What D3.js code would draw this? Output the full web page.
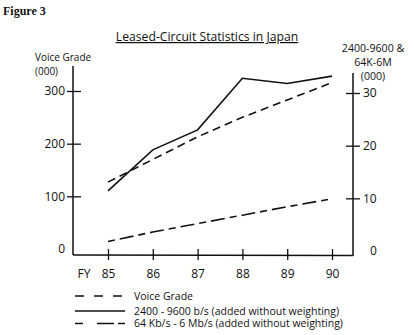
<!DOCTYPE html>
<html>
<head>
<meta charset="utf-8">
<script src="https://cdn.jsdelivr.net/npm/d3@7"></script>
<style>
  body { margin: 0; background: #fff; }
  svg { display: block; }
  text { font-family: "Open Sans", "Liberation Sans", sans-serif; fill: #111; }
</style>
</head>
<body>
<svg id="chart" width="414" height="335"></svg>
<script>
// fiscal years and the three leased-circuit series
const years = [85, 86, 87, 88, 89, 90]
const voiceGrade = [127, 170, 213, 250, 283, 316]      // left axis, thousands
const lowSpeed = [11.4, 19.2, 23.0, 32.8, 31.8, 33.2]   // 2400-9600 b/s, right axis
const highSpeed = [1.8, 3.6, 5.2, 6.8, 8.4, 9.9]        // 64 Kb/s - 6 Mb/s, right axis
const leftTicks = [0, 100, 200, 300]
const rightTicks = [0, 10, 20, 30]
const legendNames = [
    "Voice Grade",
    "2400 - 9600 b/s (added without weighting)",
    "64 Kb/s - 6 Mb/s (added without weighting)"
]

const svg = d3.select("#chart")
svg.append("rect").attr("width", 414).attr("height", 335).attr("fill", "#fff")

const x = d3.scaleLinear().domain([85, 90]).range([108, 332])
const yL = d3.scaleLinear().domain([0, 300]).range([249, 91])
const yR = d3.scaleLinear().domain([0, 30]).range([251, 93])

const ink = "#111"

// heading text
svg.append("text")
    .attr("x", 3).attr("y", 15)
    .style("font-family", "'Liberation Serif', serif")
    .style("font-weight", "bold")
    .style("font-size", "12px")
    .text("Figure 3")

svg.append("text")
    .attr("x", 207).attr("y", 41)
    .attr("text-anchor", "middle")
    .style("font-size", "12.2px")
    .style("text-decoration", "underline")
    .text("Leased-Circuit Statistics in Japan")

// axis captions
svg.append("text").attr("x", 35).attr("y", 61).style("font-size", "10px").text("Voice Grade")
svg.append("text").attr("x", 35).attr("y", 75).style("font-size", "10px").text("(000)")
const rightCap = ["2400-9600 &", "64K-6M", "(000)"]
rightCap.forEach((t, i) => {
    svg.append("text")
        .attr("x", 373).attr("y", 52 + i * 14)
        .attr("text-anchor", "middle")
        .style("font-size", "10.6px")
        .text(t)
})

// frame lines
svg.append("line").attr("x1", 73).attr("x2", 73).attr("y1", 66).attr("y2", 255)
    .attr("stroke", ink).attr("stroke-width", 1.5)
svg.append("line").attr("x1", 353).attr("x2", 353).attr("y1", 73).attr("y2", 256)
    .attr("stroke", ink).attr("stroke-width", 1.5)
svg.append("line").attr("x1", 73).attr("x2", 353).attr("y1", 255).attr("y2", 255.5)
    .attr("stroke", ink).attr("stroke-width", 1.5)

// left axis
const gL = svg.append("g")
    .attr("transform", "translate(73,0)")
    .call(d3.axisLeft(yL).tickValues(leftTicks).tickSize(6).tickPadding(2))
gL.select(".domain").remove()
gL.selectAll(".tick line").attr("x1", 8).attr("stroke", ink).attr("stroke-width", 1.3)
    .filter(d => d === 0).remove()
gL.selectAll(".tick text").style("font-size", "12px").style("font-family", "'Open Sans', sans-serif")
    .attr("fill", ink)

// right axis
const gR = svg.append("g")
    .attr("transform", "translate(353,0)")
    .call(d3.axisRight(yR).tickValues(rightTicks).tickSize(7).tickPadding(3))
gR.select(".domain").remove()
gR.selectAll(".tick line").attr("x1", -7).attr("stroke", ink).attr("stroke-width", 1.3)
    .filter(d => d === 0).remove()
gR.selectAll(".tick text").style("font-size", "12px").style("font-family", "'Open Sans', sans-serif")
    .attr("fill", ink)
gR.selectAll(".tick text").filter(d => d === 0).attr("x", 17)

// bottom axis
const gX = svg.append("g")
    .attr("transform", "translate(0,255)")
    .call(d3.axisBottom(x).tickValues(years).tickFormat(d3.format("d")).tickSize(5).tickPadding(9))
gX.select(".domain").remove()
gX.selectAll(".tick line").attr("y1", -6).attr("stroke", ink).attr("stroke-width", 1.3)
gX.selectAll(".tick text").style("font-size", "12px").style("font-family", "'Open Sans', sans-serif")
    .attr("fill", ink)
svg.append("text").attr("x", 84).attr("y", 278).attr("text-anchor", "middle")
    .style("font-size", "12px").text("FY")

// series lines
const lineL = d3.line().x((d, i) => x(years[i])).y(d => yL(d))
const lineR = d3.line().x((d, i) => x(years[i])).y(d => yR(d))

const series = [
    { name: legendNames[0], values: voiceGrade, line: lineL, dash: "8,5", key: "9,10" },
    { name: legendNames[1], values: lowSpeed, line: lineR, dash: null, key: null },
    { name: legendNames[2], values: highSpeed, line: lineR, dash: "7,5,14,5", key: "8,14,17,4" }
]

series.forEach(s => {
    svg.append("path")
        .datum(s.values)
        .attr("d", s.line)
        .attr("fill", "none")
        .attr("stroke", ink)
        .attr("stroke-width", 1.6)
        .attr("stroke-dasharray", s.dash)
})

// legend
const legend = svg.append("g")
series.forEach((s, i) => {
    const ly = [296, 311, 323.5][i]
    legend.append("line")
        .attr("x1", 75).attr("x2", 125).attr("y1", ly).attr("y2", ly)
        .attr("stroke", ink).attr("stroke-width", 1.6)
        .attr("stroke-dasharray", s.key)
    legend.append("text")
        .attr("x", 134).attr("y", ly + 3.5)
        .style("font-size", "10.5px")
        .text(s.name)
})
</script>
</body>
</html>
